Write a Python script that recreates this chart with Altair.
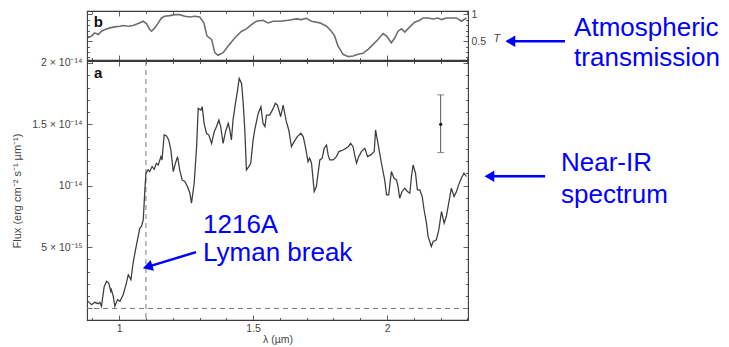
import altair as alt
import pandas as pd

# ---------------- panel a : near-IR spectrum (flux in 1e-15 erg cm-2 s-1 um-1) ----------------
wavelength = [
    0.884, 0.897, 0.909, 0.922, 0.928, 0.934, 0.944, 0.953, 0.961, 0.969,
    0.971, 0.978, 0.984, 0.994, 1.003, 1.015, 1.027, 1.034, 1.044, 1.052,
    1.061, 1.071, 1.077, 1.083, 1.090, 1.096, 1.100, 1.108, 1.114, 1.123,
    1.131, 1.139, 1.146, 1.156, 1.160, 1.168, 1.177, 1.185, 1.193, 1.202,
    1.210, 1.218, 1.226, 1.235, 1.245, 1.255, 1.264, 1.270, 1.280, 1.289,
    1.295, 1.305, 1.310, 1.317, 1.326, 1.335, 1.345, 1.355, 1.363, 1.372,
    1.379, 1.388, 1.397, 1.407, 1.413, 1.419, 1.425, 1.434, 1.442, 1.448,
    1.457, 1.463, 1.469, 1.475, 1.484, 1.491, 1.500, 1.506, 1.519, 1.529,
    1.537, 1.544, 1.550, 1.562, 1.575, 1.583, 1.591, 1.603, 1.612, 1.624,
    1.633, 1.643, 1.653, 1.665, 1.678, 1.687, 1.695, 1.705, 1.711, 1.718,
    1.728, 1.736, 1.749, 1.758, 1.765, 1.774, 1.780, 1.786, 1.799, 1.811,
    1.820, 1.836, 1.855, 1.864, 1.873, 1.879, 1.886, 1.894, 1.904, 1.917,
    1.927, 1.939, 1.952, 1.957, 1.966, 1.979, 1.991, 1.998, 2.006, 2.016,
    2.026, 2.035, 2.041, 2.047, 2.056, 2.066, 2.076, 2.085, 2.091, 2.097,
    2.106, 2.113, 2.122, 2.131, 2.138, 2.147, 2.153, 2.165, 2.172, 2.184,
    2.193, 2.203, 2.213, 2.221, 2.230, 2.240, 2.250, 2.259, 2.267, 2.277,
    2.287, 2.296,
]
flux = [
    0.58, 0.31, 0.50, 0.39, 0.50, 0.18, 1.75, 2.21, 2.07, 1.40,
    1.53, 0.99, 0.18, 0.72, 0.58, 1.12, 2.07, 2.75, 2.34, 3.70,
    4.78, 5.87, 6.54, 6.68, 7.22, 9.66, 11.02, 11.29, 11.15, 11.56,
    11.34, 11.83, 11.69, 12.37, 12.10, 14.13, 14.05, 13.73, 12.91, 11.15,
    11.83, 12.37, 11.29, 10.47, 10.34, 9.93, 9.39, 8.58, 10.20, 13.18,
    16.30, 16.16, 16.44, 15.08, 14.27, 14.13, 13.45, 14.40, 14.81, 15.35,
    14.81, 13.45, 14.40, 15.08, 14.54, 13.73, 15.35, 16.71, 17.79, 18.74,
    18.33, 16.71, 14.54, 11.29, 11.56, 11.83, 13.73, 14.54, 15.89, 16.44,
    15.08, 14.81, 15.76, 15.76, 16.30, 16.71, 16.57, 15.62, 16.57, 15.22,
    14.54, 13.18, 13.59, 14.00, 14.27, 14.00, 13.18, 11.96, 12.24, 11.83,
    9.53, 9.93, 12.10, 12.24, 13.05, 13.32, 12.51, 12.10, 12.10, 12.37,
    12.78, 12.91, 13.18, 13.45, 13.18, 12.51, 11.83, 12.37, 12.78, 13.05,
    12.37, 12.51, 12.78, 14.54, 13.45, 11.83, 10.47, 9.25, 9.25, 11.15,
    10.61, 10.47, 9.93, 8.98, 9.53, 9.80, 9.53, 9.39, 10.75, 11.69,
    11.02, 9.66, 9.66, 9.12, 8.04, 6.95, 5.87, 5.05, 5.46, 5.60,
    6.41, 7.90, 6.95, 7.49, 8.58, 9.80, 9.12, 9.53, 10.07, 10.61,
    11.02, 10.75,
]

# ---------------- panel b : atmospheric transmission ----------------
t_wavelength = [
    0.884, 0.897, 0.909, 0.922, 0.934, 0.947, 0.965, 0.984, 1.003, 1.015,
    1.034, 1.052, 1.071, 1.090, 1.102, 1.114, 1.121, 1.133, 1.146, 1.158,
    1.170, 1.189, 1.208, 1.226, 1.245, 1.264, 1.282, 1.301, 1.316, 1.328,
    1.345, 1.357, 1.369, 1.388, 1.407, 1.432, 1.457, 1.475, 1.494, 1.512,
    1.537, 1.556, 1.575, 1.600, 1.631, 1.662, 1.680, 1.699, 1.718, 1.749,
    1.774, 1.792, 1.804, 1.817, 1.836, 1.855, 1.873, 1.892, 1.910, 1.929,
    1.948, 1.966, 1.985, 1.998, 2.016, 2.029, 2.041, 2.054, 2.066, 2.085,
    2.103, 2.122, 2.134, 2.153, 2.172, 2.190, 2.203, 2.221, 2.240, 2.259,
    2.277, 2.296,
]
transmission = [
    0.565, 0.596, 0.657, 0.626, 0.688, 0.719, 0.750, 0.769, 0.781, 0.793,
    0.781, 0.793, 0.830, 0.873, 0.830, 0.719, 0.688, 0.750, 0.843, 0.935,
    0.966, 0.978, 0.997, 0.997, 0.966, 0.954, 0.966, 0.954, 0.843, 0.596,
    0.534, 0.287, 0.238, 0.287, 0.410, 0.565, 0.688, 0.731, 0.812, 0.873,
    0.892, 0.843, 0.873, 0.873, 0.892, 0.917, 0.904, 0.929, 0.873, 0.843,
    0.781, 0.688, 0.600, 0.410, 0.256, 0.213, 0.225, 0.256, 0.275, 0.349,
    0.441, 0.534, 0.645, 0.596, 0.472, 0.565, 0.688, 0.731, 0.670, 0.769,
    0.855, 0.892, 0.935, 0.935, 0.917, 0.935, 0.904, 0.935, 0.935, 0.935,
    0.873, 0.935,
]

# reference lines and the representative error bar
lyman_wavelength = [1.1]
zero_flux = [0]
err_wavelength = [2.2]
err_flux = [15.0]
err_low = [12.7]
err_high = [17.4]

# ticks and labels
x_tick_values = [0.9, 1.0, 1.1, 1.2, 1.3, 1.4, 1.5, 1.6, 1.7, 1.8, 1.9, 2.0, 2.1, 2.2, 2.3]
x_label_values = [1, 1.5, 2]
y_tick_values = [0, 1, 2, 3, 4, 5, 6, 7, 8, 9, 10, 11, 12, 13, 14, 15, 16, 17, 18, 19, 20]
y_label_values = [5, 10, 15, 20]
y_label_texts = ["5 × 10⁻¹⁵", "10⁻¹⁴", "1.5 × 10⁻¹⁴", "2 × 10⁻¹⁴"]
t_tick_values = [0.2, 0.3, 0.4, 0.5, 0.6, 0.7, 0.8, 0.9, 1.0]
t_label_values = [0.5, 1]

# annotations (data coordinates)
note_text = ["1216A", "Lyman break", "Near-IR", "spectrum"]
note_x = [1.313, 1.313, 2.649, 2.649]
note_y = [6.79, 4.51, 11.83, 9.23]
arrow_tail_x = [1.287, 2.590]
arrow_tail_y = [4.59, 10.77]
arrow_head_x = [1.112, 2.388]
arrow_head_y = [3.43, 10.77]
arrow_angle = [253, 270]

top_note_text = ["Atmospheric", "transmission"]
top_note_x = [2.698, 2.698]
top_note_y = [0.75, 0.194]
top_arrow_tail_x = [2.664]
top_arrow_head_x = [2.466]
top_arrow_y = [0.5]
top_arrow_angle = [270]

panel_a = {"wl": [0.922], "flux": [19.2], "text": ["a"]}
panel_b = {"wl": [0.922], "t": [0.861], "text": ["b"]}

# ---------------- styling ----------------
FRAME = "#3a3a3a"
TXT = "#444444"
BLUE = "#0000ff"
W, H_TOP, H_BOT = 381, 49, 259
X_DOMAIN = [0.88, 2.302]
Y_DOMAIN = [-0.94, 20.16]
T_DOMAIN = [0.15, 1.065]

xs = alt.Scale(domain=X_DOMAIN, nice=False, zero=False)
ys = alt.Scale(domain=Y_DOMAIN, nice=False, zero=False)
ts = alt.Scale(domain=T_DOMAIN, nice=False, zero=False)

HALF_TEST = "abs(datum.value * 2 - round(datum.value * 2)) < 0.01"
FIVE_TEST = "abs(datum.value / 5 - round(datum.value / 5)) < 0.01"


def edge_axis(orient, offset, values, test):
    return alt.Axis(orient=orient, offset=offset, values=values, labels=False,
                    domain=False, grid=False, title=None, tickColor=FRAME, tickWidth=0.8,
                    tickSize={"condition": {"test": test, "value": 5}, "value": 2.5})


label_expr = "".join(
    f"datum.value == {v} ? '{t}' : " for v, t in zip(y_label_values, y_label_texts)
) + "''"

# ---------------- panel a ----------------
spec_df = pd.DataFrame({"wl": wavelength, "flux": flux})

spec = alt.Chart(spec_df).mark_line(color="#3c3c3c", strokeWidth=1.25).encode(
    x=alt.X("wl:Q", scale=xs, axis=alt.Axis(
        orient="bottom", values=x_label_values, format="~g", ticks=False, domain=False,
        grid=False, labelPadding=3, title="λ (µm)", titlePadding=1, titleFontSize=10.5)),
    y=alt.Y("flux:Q", scale=ys, axis=alt.Axis(
        orient="left", values=y_label_values, labelExpr=label_expr, ticks=False,
        domain=False, grid=False, labelPadding=5, title="Flux (erg cm⁻² s⁻¹ µm⁻¹)",
        titlePadding=9)),
)

ticks_a1 = alt.Chart(spec_df).mark_line(opacity=0).encode(
    x=alt.X("wl:Q", scale=xs, axis=edge_axis("top", -H_BOT, x_tick_values, HALF_TEST)),
    y=alt.Y("flux:Q", scale=ys, axis=edge_axis("right", -W, y_tick_values, FIVE_TEST)),
)
ticks_a2 = alt.Chart(spec_df).mark_line(opacity=0).encode(
    x=alt.X("wl:Q", scale=xs, axis=edge_axis("bottom", -H_BOT, x_tick_values, HALF_TEST)),
    y=alt.Y("flux:Q", scale=ys, axis=edge_axis("left", -W, y_tick_values, FIVE_TEST)),
)

lyman = alt.Chart(pd.DataFrame({"wl": lyman_wavelength})).mark_rule(
    color="#7a7a7a", strokeDash=[5, 4], strokeWidth=1).encode(
    x=alt.X("wl:Q", scale=xs, axis=None))
zero = alt.Chart(pd.DataFrame({"flux": zero_flux})).mark_rule(
    color="#7a7a7a", strokeDash=[5, 4], strokeWidth=1).encode(
    y=alt.Y("flux:Q", scale=ys, axis=None))

err_df = pd.DataFrame({"wl": err_wavelength, "mid": err_flux, "lo": err_low, "hi": err_high})
cap_df = pd.DataFrame({"wl": err_wavelength * 2, "flux": err_low + err_high})
err_rule = alt.Chart(err_df).mark_rule(color="#555555", strokeWidth=1).encode(
    x=alt.X("wl:Q", scale=xs, axis=None),
    y=alt.Y("lo:Q", scale=ys, axis=None), y2="hi:Q")
caps = alt.Chart(cap_df).mark_tick(orient="horizontal", color="#555555", size=7, thickness=1).encode(
    x=alt.X("wl:Q", scale=xs, axis=None),
    y=alt.Y("flux:Q", scale=ys, axis=None))
dot = alt.Chart(err_df).mark_point(filled=True, color="#111111", size=10, opacity=1).encode(
    x=alt.X("wl:Q", scale=xs, axis=None),
    y=alt.Y("mid:Q", scale=ys, axis=None))

arrow_df = pd.DataFrame({"wl": arrow_tail_x, "flux": arrow_tail_y,
                         "wl2": arrow_head_x, "flux2": arrow_head_y, "ang": arrow_angle})
arrows = alt.Chart(arrow_df).mark_rule(color=BLUE, strokeWidth=2.5).encode(
    x=alt.X("wl:Q", scale=xs, axis=None), y=alt.Y("flux:Q", scale=ys, axis=None),
    x2="wl2:Q", y2="flux2:Q")
heads = alt.Chart(arrow_df).mark_point(shape="triangle", filled=True, color=BLUE,
                                        size=130, opacity=1).encode(
    x=alt.X("wl2:Q", scale=xs, axis=None), y=alt.Y("flux2:Q", scale=ys, axis=None),
    angle=alt.Angle("ang:Q", scale=None))

note_df = pd.DataFrame({"wl": note_x, "flux": note_y, "text": note_text})
notes = alt.Chart(note_df).mark_text(align="left", baseline="middle", fontSize=26,
                                     color=BLUE, font="Liberation Sans").encode(
    x=alt.X("wl:Q", scale=xs, axis=None), y=alt.Y("flux:Q", scale=ys, axis=None),
    text="text:N")

label_a = alt.Chart(pd.DataFrame(panel_a)).mark_text(
    fontSize=15, fontWeight="bold", color="#111111", font="Liberation Sans").encode(
    x=alt.X("wl:Q", scale=xs, axis=None), y=alt.Y("flux:Q", scale=ys, axis=None),
    text="text:N")

bottom = alt.layer(
    lyman, zero, spec, ticks_a1, ticks_a2, err_rule, caps, dot, arrows, heads, notes, label_a
).resolve_scale(x="shared", y="shared").resolve_axis(
    x="independent", y="independent").properties(width=W, height=H_BOT)

# ---------------- panel b ----------------
t_df = pd.DataFrame({"wl": t_wavelength, "t": transmission})

tline = alt.Chart(t_df).mark_line(color="#6e6e6e", strokeWidth=1.6).encode(
    x=alt.X("wl:Q", scale=xs, axis=None),
    y=alt.Y("t:Q", scale=ts, axis=alt.Axis(
        orient="right", values=t_label_values, format="~g", ticks=False, domain=False,
        grid=False, labelPadding=3, title="T", titleAngle=0, titleFontStyle="italic",
        titleFontWeight="normal", titleAlign="left", titleBaseline="middle",
        titleX=25, titleY=27)),
)
ticks_b1 = alt.Chart(t_df).mark_line(opacity=0).encode(
    x=alt.X("wl:Q", scale=xs, axis=edge_axis("top", -H_TOP, x_tick_values, HALF_TEST)),
    y=alt.Y("t:Q", scale=ts, axis=edge_axis("right", -W, t_tick_values, HALF_TEST)),
)
ticks_b2 = alt.Chart(t_df).mark_line(opacity=0).encode(
    x=alt.X("wl:Q", scale=xs, axis=edge_axis("bottom", -H_TOP, x_tick_values, HALF_TEST)),
    y=alt.Y("t:Q", scale=ts, axis=edge_axis("left", -W, t_tick_values, HALF_TEST)),
)

top_arrow_df = pd.DataFrame({"wl": top_arrow_tail_x, "wl2": top_arrow_head_x,
                             "t": top_arrow_y, "ang": top_arrow_angle})
top_arrow = alt.Chart(top_arrow_df).mark_rule(color=BLUE, strokeWidth=2.5).encode(
    x=alt.X("wl:Q", scale=xs, axis=None), x2="wl2:Q",
    y=alt.Y("t:Q", scale=ts, axis=None))
top_head = alt.Chart(top_arrow_df).mark_point(shape="triangle", filled=True, color=BLUE,
                                              size=130, opacity=1).encode(
    x=alt.X("wl2:Q", scale=xs, axis=None), y=alt.Y("t:Q", scale=ts, axis=None),
    angle=alt.Angle("ang:Q", scale=None))
top_note_df = pd.DataFrame({"wl": top_note_x, "t": top_note_y, "text": top_note_text})
top_notes = alt.Chart(top_note_df).mark_text(align="left", baseline="middle", fontSize=26,
                                             color=BLUE, font="Liberation Sans").encode(
    x=alt.X("wl:Q", scale=xs, axis=None), y=alt.Y("t:Q", scale=ts, axis=None),
    text="text:N")
label_b = alt.Chart(pd.DataFrame(panel_b)).mark_text(
    fontSize=15, fontWeight="bold", color="#111111", font="Liberation Sans").encode(
    x=alt.X("wl:Q", scale=xs, axis=None), y=alt.Y("t:Q", scale=ts, axis=None),
    text="text:N")

top = alt.layer(
    tline, ticks_b1, ticks_b2, top_arrow, top_head, top_notes, label_b
).resolve_scale(x="shared", y="shared").resolve_axis(
    x="independent", y="independent").properties(width=W, height=H_TOP)

chart = alt.vconcat(top, bottom, spacing=1, bounds="flush").properties(
    padding={"left": 3, "top": 0, "right": 0, "bottom": 0}
).configure(font="Liberation Sans").configure_view(
    stroke=FRAME, strokeWidth=1.1
).configure_axis(
    labelFont="Liberation Sans", labelFontSize=10.5, labelColor=TXT,
    titleFont="Liberation Sans", titleFontSize=11, titleFontWeight="normal", titleColor=TXT,
)

chart.save("out.html", embed_options={"renderer": "svg", "actions": False})
